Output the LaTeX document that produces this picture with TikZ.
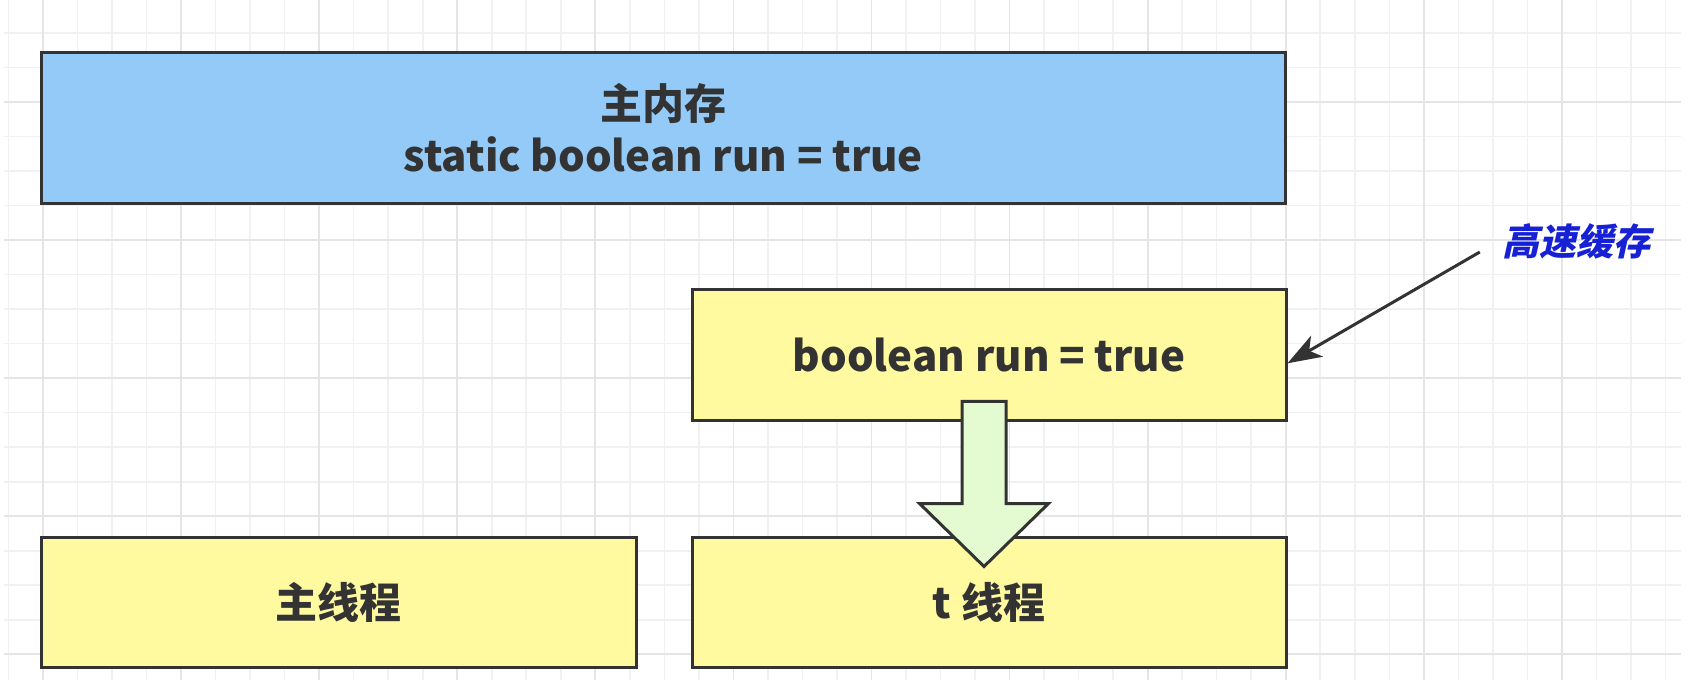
\documentclass[tikz,border=0pt]{standalone}
\usepackage{fontspec}
\setmainfont{Noto Sans CJK SC}
\newfontfamily\cjkslant{Noto Sans CJK SC}[FakeSlant=0.22]
\usetikzlibrary{arrows.meta,calc}
\definecolor{memblue}{RGB}{148,202,248}
\definecolor{boxyellow}{RGB}{255,250,160}
\definecolor{flowgreen}{RGB}{228,251,210}
\definecolor{edgegray}{RGB}{51,51,51}
\definecolor{gridminor}{RGB}{241,241,241}
\definecolor{gridmajor}{RGB}{229,229,229}
\definecolor{labelblue}{RGB}{22,32,212}
\tikzset{
  boxbase/.style={draw=edgegray, line width=3pt, rectangle, inner sep=0pt,
    text=edgegray, font=\fontsize{42}{52}\selectfont\bfseries, align=center},
  membox/.style={boxbase, fill=memblue},
  ybox/.style={boxbase, fill=boxyellow},
  gminor/.style={draw=gridminor, line width=1.6pt},
  gmajor/.style={draw=gridmajor, line width=1.8pt},
  pointer/.style={draw=edgegray, line width=3pt,
    -{Stealth[length=34pt,width=24pt,inset=9pt]}},
  flowarrow/.style={draw=edgegray, line width=3pt, fill=flowgreen, line join=miter},
  notelabel/.style={text=labelblue, inner sep=0pt,
    font=\cjkslant\fontsize{37}{42}\selectfont\bfseries}
}
\begin{document}
\begin{tikzpicture}[x=1pt,y=-1pt]
\useasboundingbox (0,0) rectangle (1696,680);
\fill[white] (0,0) rectangle (1696,680);
% grid
\foreach \k in {-1,...,47} {
  \pgfmathsetmacro\xx{43+34.52*\k}
  \draw[gminor] (\xx,0) -- (\xx,680);
}
\foreach \k in {-2,...,16} {
  \pgfmathsetmacro\yy{102+34.52*\k}
  \draw[gminor] (4,\yy) -- (1681,\yy);
}
\foreach \m in {0,...,11} {
  \pgfmathsetmacro\xx{43+138.08*\m}
  \draw[gmajor] (\xx,0) -- (\xx,680);
}
\foreach \m in {0,...,4} {
  \pgfmathsetmacro\yy{102+138.08*\m}
  \draw[gmajor] (4,\yy) -- (1681,\yy);
}
% boxes
\node[membox, minimum width=1244pt, minimum height=151pt] (mem) at (663.3,128.1)
  {主内存\\static boolean run = true};
\node[ybox, minimum width=594pt, minimum height=130.7pt] (cache) at (989,355.3)
  {boolean run = true};
\node[ybox, minimum width=595pt, minimum height=130pt] (mth) at (338.5,602)
  {主线程};
\node[ybox, minimum width=594pt, minimum height=130pt] (tth) at (989,602)
  {t 线程};
% label and pointer
\node[notelabel] (lbl) at (1576,241) {高速缓存};
\draw[pointer] ([xshift=-22pt,yshift=-11pt]lbl.west) -- ([yshift=-8pt]cache.east);
% block arrow from cache to t thread
\coordinate (ftop) at ([xshift=-5pt,yshift=20.7pt]cache.south);
\coordinate (ftip) at ([xshift=-5pt,yshift=-31pt]tth.north);
\path[flowarrow]
  ($(ftop)+(-22,0)$) -- ($(ftip)+(-22,-63)$) -- ($(ftip)+(-64.5,-63)$) --
  (ftip) -- ($(ftip)+(64.5,-63)$) -- ($(ftip)+(22,-63)$) -- ($(ftop)+(22,0)$) -- cycle;
\end{tikzpicture}
\end{document}
